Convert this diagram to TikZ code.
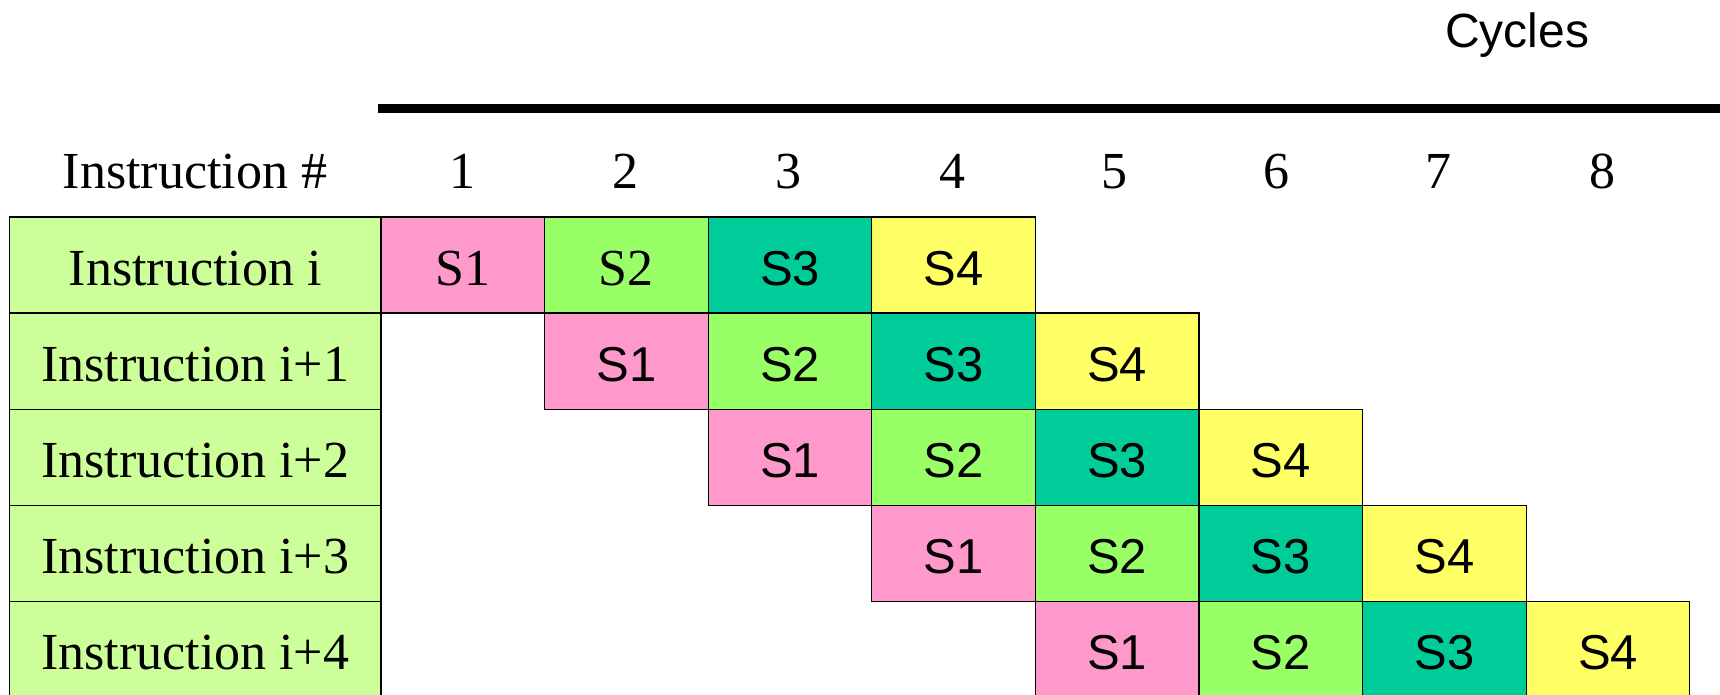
\documentclass[tikz,border=0pt]{standalone}
\usepackage{fontspec}
\setmainfont{Liberation Serif}
\setsansfont{Liberation Sans}
\usepackage{tikz}

\definecolor{stageA}{HTML}{FF99CC}
\definecolor{stageB}{HTML}{99FF66}
\definecolor{stageC}{HTML}{00CC99}
\definecolor{stageD}{HTML}{FFFF66}
\definecolor{instrbg}{HTML}{CCFF99}

\tikzset{
  box/.style={draw=black, line width=0.6pt, anchor=north west, inner sep=0pt, outer sep=0pt,
    minimum height=48.05pt, text height=20pt, text depth=0pt},
  cell/.style={box, minimum width=81.8pt, font=\sffamily\fontsize{24.5}{28}\selectfont},
  rmcell/.style={box, minimum width=81.8pt, font=\rmfamily\fontsize{26}{30}\selectfont},
  instr/.style={box, fill=instrbg, minimum width=185.75pt, font=\rmfamily\fontsize{26}{30}\selectfont},
  head/.style={anchor=base, inner sep=0pt, font=\rmfamily\fontsize{26}{30}\selectfont}
}

\begin{document}
\begin{tikzpicture}[x=0.5pt, y=-0.5pt]
\useasboundingbox (0,0) rectangle (1720,695);
% axis
\node[anchor=base, inner sep=0pt, font=\sffamily\fontsize{24}{28}\selectfont] (cycles) at (1517,48) {Cycles};
\coordinate (axisL) at (378,108.5);
\coordinate (axisR) at (1720,108.5);
\draw[line width=4.15pt] (axisL) -- (axisR);
% header row
\node[head] (hdr) at (195,189) {Instruction \#};
\node[head] (c1) at (462,189) {1};
\node[head] (c2) at (625,189) {2};
\node[head] (c3) at (788,189) {3};
\node[head] (c4) at (952,189) {4};
\node[head] (c5) at (1114,189) {5};
\node[head] (c6) at (1276,189) {6};
\node[head] (c7) at (1438,189) {7};
\node[head] (c8) at (1602,189) {8};
% instruction labels
\node[instr] (in0) at (9.5,217) {Instruction i};
\node[instr] (in1) at (9.5,313.1) {Instruction i+1};
\node[instr] (in2) at (9.5,409.2) {Instruction i+2};
\node[instr] (in3) at (9.5,505.3) {Instruction i+3};
\node[instr] (in4) at (9.5,601.4) {Instruction i+4};
% instruction i
\node[rmcell, fill=stageA] (r0s1) at (381,217) {S1};
\node[rmcell, fill=stageB] (r0s2) at (544.6,217) {S2};
\node[cell, fill=stageC] (r0s3) at (708.2,217) {S3};
\node[cell, fill=stageD] (r0s4) at (871.8,217) {S4};
% instruction i+1
\node[cell, fill=stageA] (r1s1) at (544.6,313.1) {S1};
\node[cell, fill=stageB] (r1s2) at (708.2,313.1) {S2};
\node[cell, fill=stageC] (r1s3) at (871.8,313.1) {S3};
\node[cell, fill=stageD] (r1s4) at (1035.4,313.1) {S4};
% instruction i+2
\node[cell, fill=stageA] (r2s1) at (708.2,409.2) {S1};
\node[cell, fill=stageB] (r2s2) at (871.8,409.2) {S2};
\node[cell, fill=stageC] (r2s3) at (1035.4,409.2) {S3};
\node[cell, fill=stageD] (r2s4) at (1199,409.2) {S4};
% instruction i+3
\node[cell, fill=stageA] (r3s1) at (871.8,505.3) {S1};
\node[cell, fill=stageB] (r3s2) at (1035.4,505.3) {S2};
\node[cell, fill=stageC] (r3s3) at (1199,505.3) {S3};
\node[cell, fill=stageD] (r3s4) at (1362.6,505.3) {S4};
% instruction i+4
\node[cell, fill=stageA] (r4s1) at (1035.4,601.4) {S1};
\node[cell, fill=stageB] (r4s2) at (1199,601.4) {S2};
\node[cell, fill=stageC] (r4s3) at (1362.6,601.4) {S3};
\node[cell, fill=stageD] (r4s4) at (1526.2,601.4) {S4};
\end{tikzpicture}
\end{document}
